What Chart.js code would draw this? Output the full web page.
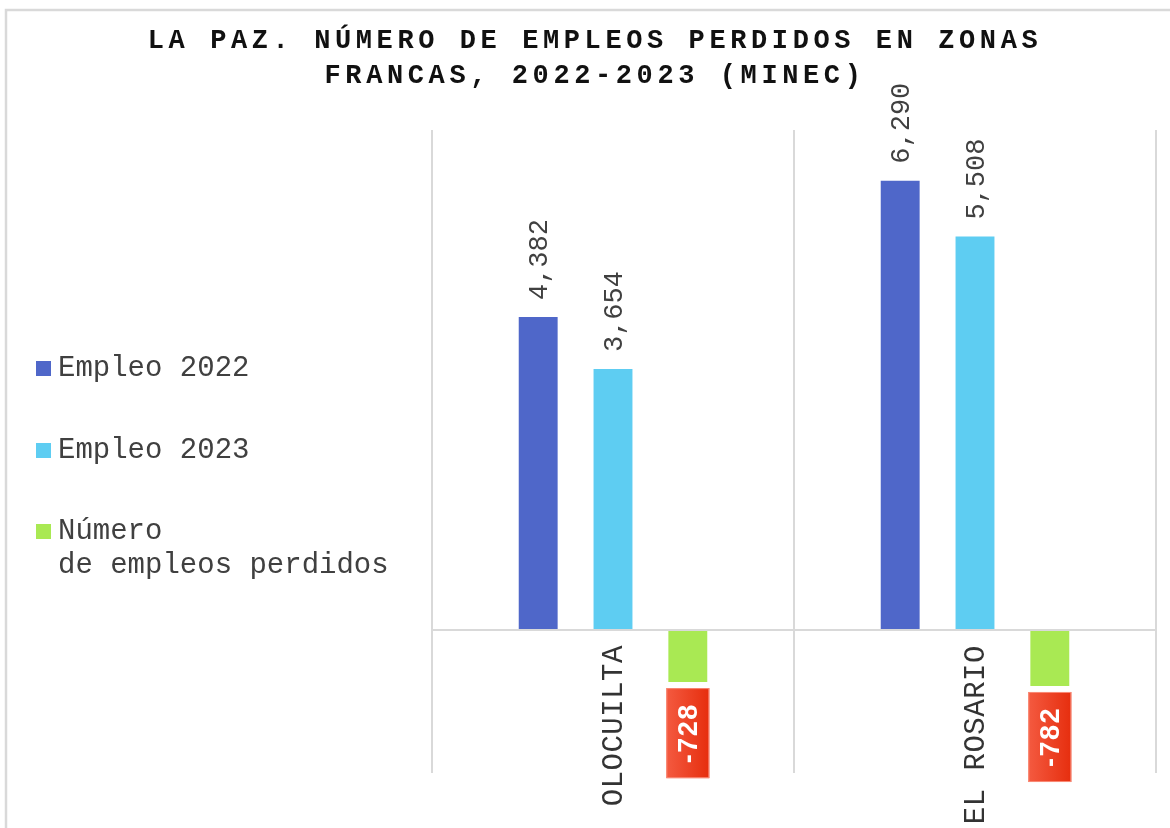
<!DOCTYPE html>
<html>
<head>
<meta charset="utf-8">
<script src="https://cdn.jsdelivr.net/npm/chart.js@4.4.1/dist/chart.umd.min.js"></script>
<style>
  html, body { margin: 0; padding: 0; background: #ffffff; }
  #wrap { width: 1170px; height: 828px; position: relative; }
</style>
</head>
<body>
<div id="wrap"><canvas id="chart" width="1170" height="828"></canvas></div>
<script>
// Data
const titleLines = ['LA PAZ. NÚMERO DE EMPLEOS PERDIDOS EN ZONAS', 'FRANCAS, 2022-2023 (MINEC)'];
const categories = ['OLOCUILTA', 'EL ROSARIO'];
const seriesNames = ['Empleo 2022', 'Empleo 2023', 'Número\nde empleos perdidos'];
const empleo2022 = [4382, 6290];
const empleo2023 = [3654, 5508];
const perdidos = [-728, -782];
const seriesColors = ['#4f67c9', '#5ecdf2', '#a9e953'];

const MONO = '"Liberation Mono", "Courier New", monospace';
const SANS = '"Liberation Sans", Arial, sans-serif';
const TEXT = '#404040';

const fmt = v => v.toLocaleString('en-US');

// draws title, legend, frame and the rotated labels
const textPlugin = {
  id: 'textPlugin',
  beforeDraw(chart) {
    const ctx = chart.ctx;
    ctx.save();
    ctx.fillStyle = '#ffffff';
    ctx.fillRect(0, 0, chart.width, chart.height);
    ctx.strokeStyle = '#d9d9d9';
    ctx.lineWidth = 2.5;
    ctx.beginPath();
    ctx.moveTo(6, chart.height);
    ctx.lineTo(6, 10);
    ctx.lineTo(chart.width, 10);
    ctx.stroke();
    ctx.restore();
  },
  afterDraw(chart) {
    const ctx = chart.ctx;
    const xs = chart.scales.x, ys = chart.scales.y;
    const zeroY = ys.getPixelForValue(0);

    // title
    ctx.save();
    ctx.fillStyle = '#111111';
    ctx.font = 'bold 27px ' + MONO;
    ctx.letterSpacing = '4.6px';
    ctx.textAlign = 'center';
    ctx.textBaseline = 'alphabetic';
    ctx.fillText(titleLines[0], 595, 48);
    ctx.fillText(titleLines[1], 595, 83);
    ctx.restore();

    // legend
    ctx.save();
    ctx.font = '29px ' + MONO;
    ctx.fillStyle = TEXT;
    ctx.textAlign = 'left';
    ctx.textBaseline = 'alphabetic';
    const legendY = [376, 458, 539];
    seriesNames.forEach((name, i) => {
      ctx.fillStyle = seriesColors[i];
      ctx.fillRect(36, legendY[i] - 15, 15, 15);
      ctx.fillStyle = TEXT;
      name.split('\n').forEach((line, k) => {
        ctx.fillText(line, 58, legendY[i] + k * 34);
      });
    });
    ctx.restore();

    // category labels
    ctx.save();
    ctx.font = '29px ' + MONO;
    ctx.letterSpacing = '0.5px';
    ctx.fillStyle = '#333333';
    ctx.textAlign = 'right';
    ctx.textBaseline = 'alphabetic';
    categories.forEach((c, i) => {
      const cx = xs.getPixelForValue(i);
      ctx.save();
      ctx.translate(cx + 9, zeroY + 15);
      ctx.rotate(-Math.PI / 2);
      ctx.fillText(c, 0, 0);
      ctx.restore();
    });
    ctx.restore();

    // value labels
    chart.data.datasets.forEach((ds, di) => {
      const meta = chart.getDatasetMeta(di);
      meta.data.forEach((bar, j) => {
        const v = ds.data[j];
        ctx.save();
        if (v >= 0) {
          ctx.font = '27px ' + MONO;
          ctx.fillStyle = TEXT;
          ctx.textAlign = 'left';
          ctx.textBaseline = 'alphabetic';
          ctx.translate(bar.x + 9, bar.y - 17);
          ctx.rotate(-Math.PI / 2);
          ctx.fillText(fmt(v), 0, 0);
        } else {
          ctx.font = 'bold 27px ' + SANS;
          ctx.letterSpacing = '1.5px';
          const tw = ctx.measureText(fmt(v)).width;
          const bw = 43, bh = tw + 30;
          const bx = bar.x - bw / 2, by = bar.y + 6;
          const g = ctx.createLinearGradient(bx, 0, bx + bw, 0);
          g.addColorStop(0, '#f45a40');
          g.addColorStop(1, '#e62e0e');
          ctx.fillStyle = g;
          ctx.fillRect(bx, by, bw, bh);
          ctx.strokeStyle = '#f98a76';
          ctx.lineWidth = 1;
          ctx.strokeRect(bx + 0.5, by + 0.5, bw - 1, bh - 1);
          ctx.fillStyle = '#ffffff';
          ctx.textAlign = 'center';
          ctx.textBaseline = 'alphabetic';
          ctx.translate(bar.x + 9.5, by + bh / 2);
          ctx.rotate(-Math.PI / 2);
          ctx.fillText(fmt(v), 0, 0);
        }
        ctx.restore();
      });
    });
  }
};

new Chart(document.getElementById('chart'), {
  type: 'bar',
  data: {
    labels: categories,
    datasets: [
      { label: seriesNames[0], data: empleo2022, backgroundColor: seriesColors[0] },
      { label: seriesNames[1], data: empleo2023, backgroundColor: seriesColors[1] },
      { label: seriesNames[2], data: perdidos, backgroundColor: seriesColors[2] }
    ]
  },
  options: {
    responsive: false,
    animation: false,
    layout: { padding: { left: 432, top: 130, right: 14, bottom: 55 } },
    datasets: {
      bar: { categoryPercentage: 0.62, barPercentage: 0.52, borderWidth: 0 }
    },
    plugins: {
      legend: { display: false },
      title: { display: false },
      tooltip: { enabled: false }
    },
    scales: {
      x: {
        grid: { color: '#d9d9d9', lineWidth: 2, drawTicks: false, offset: true },
        border: { display: false },
        ticks: { display: false }
      },
      y: {
        min: -2000,
        max: 7000,
        ticks: { display: false, stepSize: 1000 },
        grid: {
          drawTicks: false,
          lineWidth: 2,
          color: c => (c.tick && c.tick.value === 0 ? '#d9d9d9' : 'rgba(0,0,0,0)')
        },
        border: { display: false }
      }
    }
  },
  plugins: [textPlugin]
});
</script>
</body>
</html>
